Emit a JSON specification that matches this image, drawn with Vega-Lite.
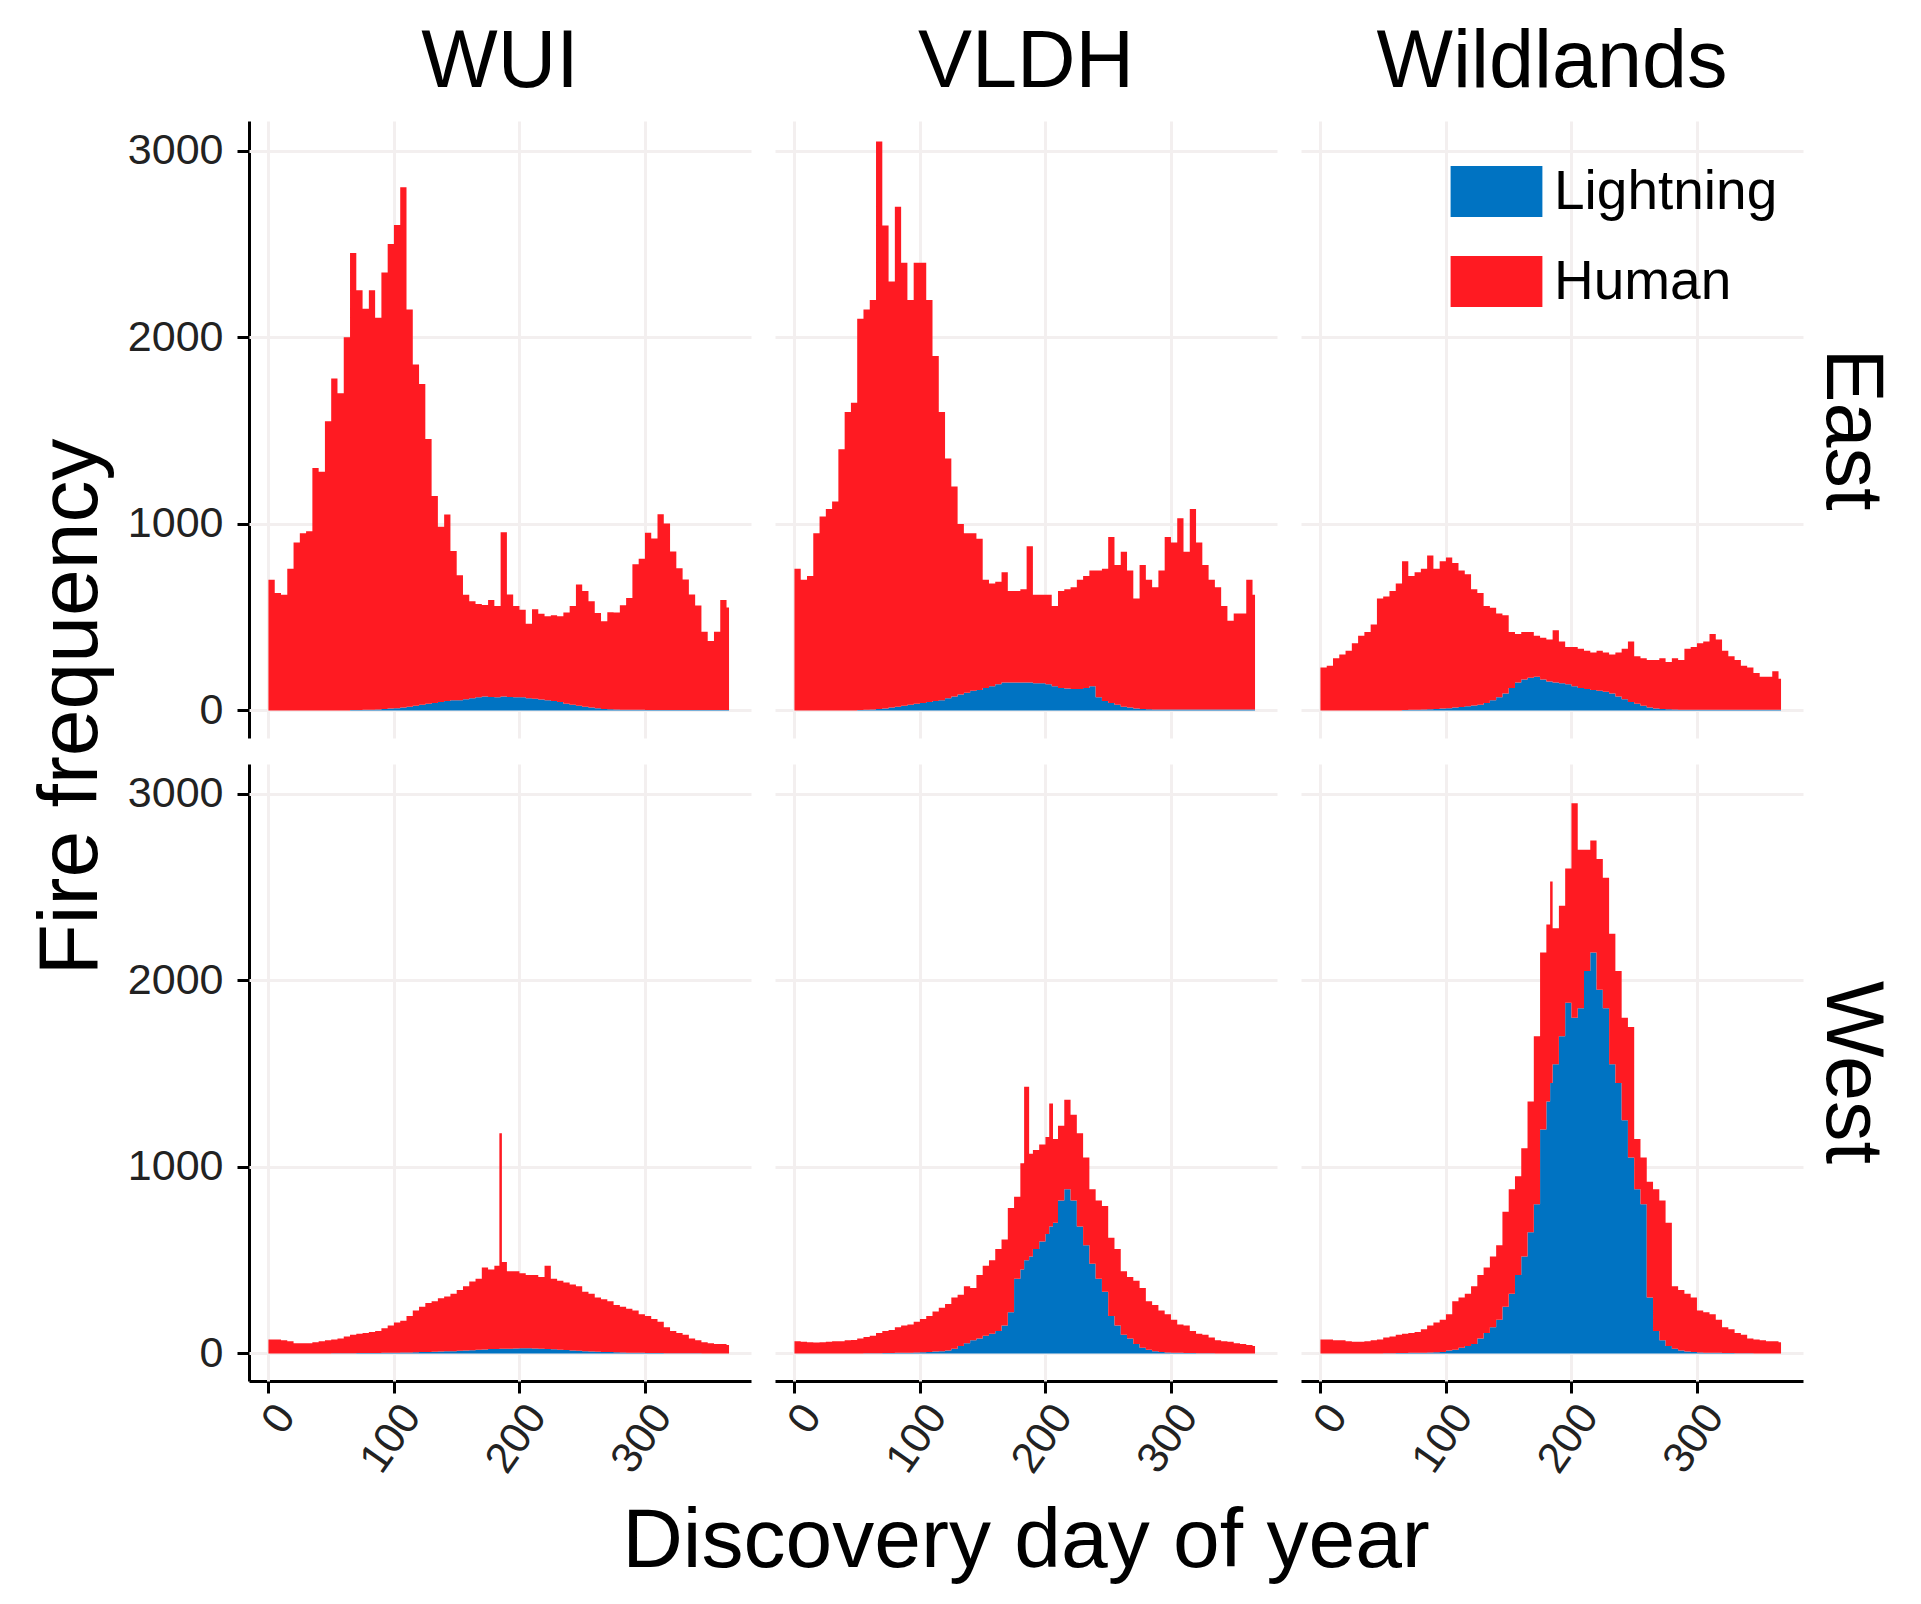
{
"$schema":"https://vega.github.io/schema/vega-lite/v6.json",
"padding":{"left":30,"top":22,"right":20,"bottom":20},
"background":"white",
"title":{"text":"Fire frequency","orient":"left","anchor":"middle","fontSize":84,"fontWeight":"normal","font":"Liberation Sans","color":"black","offset":12,"dx":96},
"data":{"values":[
{"r":"East","c":"WUI","d":0,"Lightning":0,"Human":700},{"r":"East","c":"WUI","d":5,"Lightning":0,"Human":630},{"r":"East","c":"WUI","d":10,"Lightning":0,"Human":620},{"r":"East","c":"WUI","d":15,"Lightning":0,"Human":760},{"r":"East","c":"WUI","d":20,"Lightning":0,"Human":900},{"r":"East","c":"WUI","d":25,"Lightning":0,"Human":950},{"r":"East","c":"WUI","d":30,"Lightning":0,"Human":960},{"r":"East","c":"WUI","d":35,"Lightning":0,"Human":1300},{"r":"East","c":"WUI","d":40,"Lightning":0,"Human":1280},{"r":"East","c":"WUI","d":45,"Lightning":0,"Human":1550},{"r":"East","c":"WUI","d":50,"Lightning":0,"Human":1780},{"r":"East","c":"WUI","d":55,"Lightning":0,"Human":1700},{"r":"East","c":"WUI","d":60,"Lightning":0,"Human":2000},{"r":"East","c":"WUI","d":65,"Lightning":2,"Human":2450},{"r":"East","c":"WUI","d":70,"Lightning":2,"Human":2250},{"r":"East","c":"WUI","d":75,"Lightning":3,"Human":2150},{"r":"East","c":"WUI","d":80,"Lightning":3,"Human":2250},{"r":"East","c":"WUI","d":85,"Lightning":5,"Human":2100},{"r":"East","c":"WUI","d":90,"Lightning":8,"Human":2340},{"r":"East","c":"WUI","d":95,"Lightning":10,"Human":2490},{"r":"East","c":"WUI","d":100,"Lightning":12,"Human":2590},{"r":"East","c":"WUI","d":105,"Lightning":15,"Human":2790},{"r":"East","c":"WUI","d":110,"Lightning":20,"Human":2130},{"r":"East","c":"WUI","d":115,"Lightning":25,"Human":1830},{"r":"East","c":"WUI","d":120,"Lightning":30,"Human":1720},{"r":"East","c":"WUI","d":125,"Lightning":35,"Human":1420},{"r":"East","c":"WUI","d":130,"Lightning":40,"Human":1110},{"r":"East","c":"WUI","d":135,"Lightning":45,"Human":940},{"r":"East","c":"WUI","d":140,"Lightning":50,"Human":1000},{"r":"East","c":"WUI","d":145,"Lightning":55,"Human":800},{"r":"East","c":"WUI","d":150,"Lightning":55,"Human":670},{"r":"East","c":"WUI","d":155,"Lightning":60,"Human":560},{"r":"East","c":"WUI","d":160,"Lightning":65,"Human":520},{"r":"East","c":"WUI","d":165,"Lightning":70,"Human":500},{"r":"East","c":"WUI","d":170,"Lightning":75,"Human":490},{"r":"East","c":"WUI","d":175,"Lightning":72,"Human":520},{"r":"East","c":"WUI","d":180,"Lightning":70,"Human":490},{"r":"East","c":"WUI","d":185,"Lightning":75,"Human":880},{"r":"East","c":"WUI","d":190,"Lightning":72,"Human":550},{"r":"East","c":"WUI","d":195,"Lightning":70,"Human":490},{"r":"East","c":"WUI","d":200,"Lightning":70,"Human":470},{"r":"East","c":"WUI","d":205,"Lightning":65,"Human":400},{"r":"East","c":"WUI","d":210,"Lightning":62,"Human":480},{"r":"East","c":"WUI","d":215,"Lightning":58,"Human":460},{"r":"East","c":"WUI","d":220,"Lightning":55,"Human":450},{"r":"East","c":"WUI","d":225,"Lightning":50,"Human":460},{"r":"East","c":"WUI","d":230,"Lightning":45,"Human":460},{"r":"East","c":"WUI","d":235,"Lightning":35,"Human":490},{"r":"East","c":"WUI","d":240,"Lightning":30,"Human":530},{"r":"East","c":"WUI","d":245,"Lightning":25,"Human":650},{"r":"East","c":"WUI","d":250,"Lightning":20,"Human":620},{"r":"East","c":"WUI","d":255,"Lightning":15,"Human":570},{"r":"East","c":"WUI","d":260,"Lightning":12,"Human":510},{"r":"East","c":"WUI","d":265,"Lightning":8,"Human":470},{"r":"East","c":"WUI","d":270,"Lightning":6,"Human":520},{"r":"East","c":"WUI","d":275,"Lightning":5,"Human":520},{"r":"East","c":"WUI","d":280,"Lightning":4,"Human":560},{"r":"East","c":"WUI","d":285,"Lightning":3,"Human":600},{"r":"East","c":"WUI","d":290,"Lightning":3,"Human":780},{"r":"East","c":"WUI","d":295,"Lightning":3,"Human":810},{"r":"East","c":"WUI","d":300,"Lightning":2,"Human":950},{"r":"East","c":"WUI","d":305,"Lightning":2,"Human":920},{"r":"East","c":"WUI","d":310,"Lightning":2,"Human":1050},{"r":"East","c":"WUI","d":315,"Lightning":2,"Human":1000},{"r":"East","c":"WUI","d":320,"Lightning":2,"Human":850},{"r":"East","c":"WUI","d":325,"Lightning":2,"Human":760},{"r":"East","c":"WUI","d":330,"Lightning":2,"Human":700},{"r":"East","c":"WUI","d":335,"Lightning":2,"Human":620},{"r":"East","c":"WUI","d":340,"Lightning":2,"Human":560},{"r":"East","c":"WUI","d":345,"Lightning":2,"Human":420},{"r":"East","c":"WUI","d":350,"Lightning":2,"Human":370},{"r":"East","c":"WUI","d":355,"Lightning":2,"Human":420},{"r":"East","c":"WUI","d":360,"Lightning":2,"Human":590},{"r":"East","c":"WUI","d":365,"Lightning":2,"Human":550},{"r":"East","c":"WUI","d":367,"Lightning":2,"Human":550},
{"r":"East","c":"VLDH","d":0,"Lightning":0,"Human":760},{"r":"East","c":"VLDH","d":5,"Lightning":0,"Human":700},{"r":"East","c":"VLDH","d":10,"Lightning":0,"Human":720},{"r":"East","c":"VLDH","d":15,"Lightning":0,"Human":950},{"r":"East","c":"VLDH","d":20,"Lightning":0,"Human":1040},{"r":"East","c":"VLDH","d":25,"Lightning":0,"Human":1080},{"r":"East","c":"VLDH","d":30,"Lightning":0,"Human":1120},{"r":"East","c":"VLDH","d":35,"Lightning":0,"Human":1400},{"r":"East","c":"VLDH","d":40,"Lightning":0,"Human":1600},{"r":"East","c":"VLDH","d":45,"Lightning":0,"Human":1650},{"r":"East","c":"VLDH","d":50,"Lightning":2,"Human":2098},{"r":"East","c":"VLDH","d":55,"Lightning":3,"Human":2147},{"r":"East","c":"VLDH","d":60,"Lightning":5,"Human":2195},{"r":"East","c":"VLDH","d":65,"Lightning":8,"Human":3042},{"r":"East","c":"VLDH","d":70,"Lightning":10,"Human":2590},{"r":"East","c":"VLDH","d":75,"Lightning":15,"Human":2285},{"r":"East","c":"VLDH","d":80,"Lightning":20,"Human":2680},{"r":"East","c":"VLDH","d":85,"Lightning":25,"Human":2375},{"r":"East","c":"VLDH","d":90,"Lightning":30,"Human":2170},{"r":"East","c":"VLDH","d":95,"Lightning":35,"Human":2365},{"r":"East","c":"VLDH","d":100,"Lightning":40,"Human":2360},{"r":"East","c":"VLDH","d":105,"Lightning":45,"Human":2155},{"r":"East","c":"VLDH","d":110,"Lightning":50,"Human":1850},{"r":"East","c":"VLDH","d":115,"Lightning":55,"Human":1545},{"r":"East","c":"VLDH","d":120,"Lightning":65,"Human":1285},{"r":"East","c":"VLDH","d":125,"Lightning":75,"Human":1125},{"r":"East","c":"VLDH","d":130,"Lightning":85,"Human":915},{"r":"East","c":"VLDH","d":135,"Lightning":95,"Human":855},{"r":"East","c":"VLDH","d":140,"Lightning":105,"Human":845},{"r":"East","c":"VLDH","d":145,"Lightning":110,"Human":810},{"r":"East","c":"VLDH","d":150,"Lightning":120,"Human":580},{"r":"East","c":"VLDH","d":155,"Lightning":130,"Human":550},{"r":"East","c":"VLDH","d":160,"Lightning":140,"Human":550},{"r":"East","c":"VLDH","d":165,"Lightning":150,"Human":590},{"r":"East","c":"VLDH","d":170,"Lightning":150,"Human":490},{"r":"East","c":"VLDH","d":175,"Lightning":150,"Human":490},{"r":"East","c":"VLDH","d":180,"Lightning":150,"Human":500},{"r":"East","c":"VLDH","d":185,"Lightning":150,"Human":730},{"r":"East","c":"VLDH","d":190,"Lightning":145,"Human":475},{"r":"East","c":"VLDH","d":195,"Lightning":145,"Human":475},{"r":"East","c":"VLDH","d":200,"Lightning":140,"Human":480},{"r":"East","c":"VLDH","d":205,"Lightning":130,"Human":430},{"r":"East","c":"VLDH","d":210,"Lightning":120,"Human":520},{"r":"East","c":"VLDH","d":215,"Lightning":118,"Human":532},{"r":"East","c":"VLDH","d":220,"Lightning":115,"Human":545},{"r":"East","c":"VLDH","d":225,"Lightning":115,"Human":585},{"r":"East","c":"VLDH","d":230,"Lightning":120,"Human":600},{"r":"East","c":"VLDH","d":235,"Lightning":130,"Human":620},{"r":"East","c":"VLDH","d":240,"Lightning":70,"Human":680},{"r":"East","c":"VLDH","d":245,"Lightning":50,"Human":710},{"r":"East","c":"VLDH","d":250,"Lightning":40,"Human":890},{"r":"East","c":"VLDH","d":255,"Lightning":30,"Human":750},{"r":"East","c":"VLDH","d":260,"Lightning":20,"Human":830},{"r":"East","c":"VLDH","d":265,"Lightning":15,"Human":735},{"r":"East","c":"VLDH","d":270,"Lightning":10,"Human":590},{"r":"East","c":"VLDH","d":275,"Lightning":8,"Human":772},{"r":"East","c":"VLDH","d":280,"Lightning":6,"Human":694},{"r":"East","c":"VLDH","d":285,"Lightning":5,"Human":655},{"r":"East","c":"VLDH","d":290,"Lightning":5,"Human":745},{"r":"East","c":"VLDH","d":295,"Lightning":5,"Human":925},{"r":"East","c":"VLDH","d":300,"Lightning":5,"Human":895},{"r":"East","c":"VLDH","d":305,"Lightning":5,"Human":1025},{"r":"East","c":"VLDH","d":310,"Lightning":5,"Human":845},{"r":"East","c":"VLDH","d":315,"Lightning":5,"Human":1075},{"r":"East","c":"VLDH","d":320,"Lightning":5,"Human":895},{"r":"East","c":"VLDH","d":325,"Lightning":5,"Human":775},{"r":"East","c":"VLDH","d":330,"Lightning":5,"Human":695},{"r":"East","c":"VLDH","d":335,"Lightning":5,"Human":655},{"r":"East","c":"VLDH","d":340,"Lightning":5,"Human":555},{"r":"East","c":"VLDH","d":345,"Lightning":5,"Human":475},{"r":"East","c":"VLDH","d":350,"Lightning":5,"Human":515},{"r":"East","c":"VLDH","d":355,"Lightning":5,"Human":515},{"r":"East","c":"VLDH","d":360,"Lightning":5,"Human":695},{"r":"East","c":"VLDH","d":365,"Lightning":5,"Human":615},{"r":"East","c":"VLDH","d":367,"Lightning":5,"Human":615},
{"r":"East","c":"Wildlands","d":0,"Lightning":0,"Human":230},{"r":"East","c":"Wildlands","d":5,"Lightning":0,"Human":240},{"r":"East","c":"Wildlands","d":10,"Lightning":0,"Human":280},{"r":"East","c":"Wildlands","d":15,"Lightning":0,"Human":300},{"r":"East","c":"Wildlands","d":20,"Lightning":0,"Human":320},{"r":"East","c":"Wildlands","d":25,"Lightning":0,"Human":360},{"r":"East","c":"Wildlands","d":30,"Lightning":0,"Human":400},{"r":"East","c":"Wildlands","d":35,"Lightning":0,"Human":420},{"r":"East","c":"Wildlands","d":40,"Lightning":0,"Human":460},{"r":"East","c":"Wildlands","d":45,"Lightning":0,"Human":600},{"r":"East","c":"Wildlands","d":50,"Lightning":0,"Human":610},{"r":"East","c":"Wildlands","d":55,"Lightning":0,"Human":640},{"r":"East","c":"Wildlands","d":60,"Lightning":0,"Human":680},{"r":"East","c":"Wildlands","d":65,"Lightning":2,"Human":798},{"r":"East","c":"Wildlands","d":70,"Lightning":3,"Human":717},{"r":"East","c":"Wildlands","d":75,"Lightning":4,"Human":736},{"r":"East","c":"Wildlands","d":80,"Lightning":5,"Human":755},{"r":"East","c":"Wildlands","d":85,"Lightning":6,"Human":824},{"r":"East","c":"Wildlands","d":90,"Lightning":8,"Human":752},{"r":"East","c":"Wildlands","d":95,"Lightning":10,"Human":790},{"r":"East","c":"Wildlands","d":100,"Lightning":12,"Human":808},{"r":"East","c":"Wildlands","d":105,"Lightning":15,"Human":775},{"r":"East","c":"Wildlands","d":110,"Lightning":18,"Human":732},{"r":"East","c":"Wildlands","d":115,"Lightning":22,"Human":708},{"r":"East","c":"Wildlands","d":120,"Lightning":26,"Human":624},{"r":"East","c":"Wildlands","d":125,"Lightning":30,"Human":600},{"r":"East","c":"Wildlands","d":130,"Lightning":40,"Human":520},{"r":"East","c":"Wildlands","d":135,"Lightning":55,"Human":495},{"r":"East","c":"Wildlands","d":140,"Lightning":70,"Human":450},{"r":"East","c":"Wildlands","d":145,"Lightning":90,"Human":420},{"r":"East","c":"Wildlands","d":150,"Lightning":120,"Human":300},{"r":"East","c":"Wildlands","d":155,"Lightning":150,"Human":260},{"r":"East","c":"Wildlands","d":160,"Lightning":165,"Human":255},{"r":"East","c":"Wildlands","d":165,"Lightning":175,"Human":245},{"r":"East","c":"Wildlands","d":170,"Lightning":180,"Human":220},{"r":"East","c":"Wildlands","d":175,"Lightning":165,"Human":225},{"r":"East","c":"Wildlands","d":180,"Lightning":155,"Human":225},{"r":"East","c":"Wildlands","d":185,"Lightning":150,"Human":280},{"r":"East","c":"Wildlands","d":190,"Lightning":145,"Human":225},{"r":"East","c":"Wildlands","d":195,"Lightning":140,"Human":200},{"r":"East","c":"Wildlands","d":200,"Lightning":130,"Human":210},{"r":"East","c":"Wildlands","d":205,"Lightning":120,"Human":210},{"r":"East","c":"Wildlands","d":210,"Lightning":115,"Human":205},{"r":"East","c":"Wildlands","d":215,"Lightning":110,"Human":200},{"r":"East","c":"Wildlands","d":220,"Lightning":105,"Human":215},{"r":"East","c":"Wildlands","d":225,"Lightning":100,"Human":210},{"r":"East","c":"Wildlands","d":230,"Lightning":90,"Human":210},{"r":"East","c":"Wildlands","d":235,"Lightning":75,"Human":235},{"r":"East","c":"Wildlands","d":240,"Lightning":60,"Human":270},{"r":"East","c":"Wildlands","d":245,"Lightning":45,"Human":325},{"r":"East","c":"Wildlands","d":250,"Lightning":35,"Human":255},{"r":"East","c":"Wildlands","d":255,"Lightning":25,"Human":255},{"r":"East","c":"Wildlands","d":260,"Lightning":15,"Human":255},{"r":"East","c":"Wildlands","d":265,"Lightning":10,"Human":260},{"r":"East","c":"Wildlands","d":270,"Lightning":8,"Human":272},{"r":"East","c":"Wildlands","d":275,"Lightning":6,"Human":254},{"r":"East","c":"Wildlands","d":280,"Lightning":5,"Human":275},{"r":"East","c":"Wildlands","d":285,"Lightning":4,"Human":266},{"r":"East","c":"Wildlands","d":290,"Lightning":3,"Human":327},{"r":"East","c":"Wildlands","d":295,"Lightning":3,"Human":337},{"r":"East","c":"Wildlands","d":300,"Lightning":3,"Human":357},{"r":"East","c":"Wildlands","d":305,"Lightning":3,"Human":367},{"r":"East","c":"Wildlands","d":310,"Lightning":3,"Human":407},{"r":"East","c":"Wildlands","d":315,"Lightning":3,"Human":377},{"r":"East","c":"Wildlands","d":320,"Lightning":3,"Human":317},{"r":"East","c":"Wildlands","d":325,"Lightning":3,"Human":287},{"r":"East","c":"Wildlands","d":330,"Lightning":3,"Human":267},{"r":"East","c":"Wildlands","d":335,"Lightning":3,"Human":237},{"r":"East","c":"Wildlands","d":340,"Lightning":3,"Human":227},{"r":"East","c":"Wildlands","d":345,"Lightning":3,"Human":197},{"r":"East","c":"Wildlands","d":350,"Lightning":3,"Human":177},{"r":"East","c":"Wildlands","d":355,"Lightning":3,"Human":177},{"r":"East","c":"Wildlands","d":360,"Lightning":3,"Human":207},{"r":"East","c":"Wildlands","d":365,"Lightning":3,"Human":167},{"r":"East","c":"Wildlands","d":367,"Lightning":3,"Human":167},
{"r":"West","c":"WUI","d":0,"Lightning":0,"Human":75},{"r":"West","c":"WUI","d":5,"Lightning":0,"Human":75},{"r":"West","c":"WUI","d":10,"Lightning":0,"Human":70},{"r":"West","c":"WUI","d":15,"Lightning":0,"Human":65},{"r":"West","c":"WUI","d":20,"Lightning":0,"Human":55},{"r":"West","c":"WUI","d":25,"Lightning":0,"Human":55},{"r":"West","c":"WUI","d":30,"Lightning":0,"Human":55},{"r":"West","c":"WUI","d":35,"Lightning":0,"Human":60},{"r":"West","c":"WUI","d":40,"Lightning":0,"Human":65},{"r":"West","c":"WUI","d":45,"Lightning":0,"Human":70},{"r":"West","c":"WUI","d":50,"Lightning":1,"Human":74},{"r":"West","c":"WUI","d":55,"Lightning":1,"Human":79},{"r":"West","c":"WUI","d":60,"Lightning":1,"Human":89},{"r":"West","c":"WUI","d":65,"Lightning":1,"Human":99},{"r":"West","c":"WUI","d":70,"Lightning":2,"Human":103},{"r":"West","c":"WUI","d":75,"Lightning":2,"Human":108},{"r":"West","c":"WUI","d":80,"Lightning":2,"Human":113},{"r":"West","c":"WUI","d":85,"Lightning":2,"Human":118},{"r":"West","c":"WUI","d":90,"Lightning":3,"Human":132},{"r":"West","c":"WUI","d":95,"Lightning":3,"Human":147},{"r":"West","c":"WUI","d":100,"Lightning":4,"Human":161},{"r":"West","c":"WUI","d":105,"Lightning":5,"Human":170},{"r":"West","c":"WUI","d":110,"Lightning":5,"Human":195},{"r":"West","c":"WUI","d":115,"Lightning":6,"Human":224},{"r":"West","c":"WUI","d":120,"Lightning":7,"Human":243},{"r":"West","c":"WUI","d":125,"Lightning":8,"Human":262},{"r":"West","c":"WUI","d":130,"Lightning":9,"Human":271},{"r":"West","c":"WUI","d":135,"Lightning":10,"Human":285},{"r":"West","c":"WUI","d":140,"Lightning":11,"Human":294},{"r":"West","c":"WUI","d":145,"Lightning":12,"Human":308},{"r":"West","c":"WUI","d":150,"Lightning":14,"Human":326},{"r":"West","c":"WUI","d":155,"Lightning":15,"Human":345},{"r":"West","c":"WUI","d":160,"Lightning":17,"Human":368},{"r":"West","c":"WUI","d":165,"Lightning":19,"Human":381},{"r":"West","c":"WUI","d":170,"Lightning":21,"Human":439},{"r":"West","c":"WUI","d":175,"Lightning":23,"Human":427},{"r":"West","c":"WUI","d":180,"Lightning":24,"Human":446},{"r":"West","c":"WUI","d":184,"Lightning":25,"Human":1155},{"r":"West","c":"WUI","d":186,"Lightning":25,"Human":465},{"r":"West","c":"WUI","d":190,"Lightning":25,"Human":415},{"r":"West","c":"WUI","d":195,"Lightning":26,"Human":414},{"r":"West","c":"WUI","d":200,"Lightning":27,"Human":403},{"r":"West","c":"WUI","d":205,"Lightning":27,"Human":393},{"r":"West","c":"WUI","d":210,"Lightning":26,"Human":394},{"r":"West","c":"WUI","d":215,"Lightning":25,"Human":385},{"r":"West","c":"WUI","d":220,"Lightning":24,"Human":446},{"r":"West","c":"WUI","d":225,"Lightning":22,"Human":378},{"r":"West","c":"WUI","d":230,"Lightning":20,"Human":370},{"r":"West","c":"WUI","d":235,"Lightning":18,"Human":362},{"r":"West","c":"WUI","d":240,"Lightning":16,"Human":354},{"r":"West","c":"WUI","d":245,"Lightning":14,"Human":346},{"r":"West","c":"WUI","d":250,"Lightning":12,"Human":318},{"r":"West","c":"WUI","d":255,"Lightning":10,"Human":310},{"r":"West","c":"WUI","d":260,"Lightning":9,"Human":291},{"r":"West","c":"WUI","d":265,"Lightning":8,"Human":282},{"r":"West","c":"WUI","d":270,"Lightning":7,"Human":273},{"r":"West","c":"WUI","d":275,"Lightning":6,"Human":254},{"r":"West","c":"WUI","d":280,"Lightning":5,"Human":245},{"r":"West","c":"WUI","d":285,"Lightning":4,"Human":236},{"r":"West","c":"WUI","d":290,"Lightning":3,"Human":227},{"r":"West","c":"WUI","d":295,"Lightning":3,"Human":207},{"r":"West","c":"WUI","d":300,"Lightning":2,"Human":198},{"r":"West","c":"WUI","d":305,"Lightning":2,"Human":183},{"r":"West","c":"WUI","d":310,"Lightning":2,"Human":168},{"r":"West","c":"WUI","d":315,"Lightning":1,"Human":139},{"r":"West","c":"WUI","d":320,"Lightning":1,"Human":119},{"r":"West","c":"WUI","d":325,"Lightning":1,"Human":109},{"r":"West","c":"WUI","d":330,"Lightning":1,"Human":99},{"r":"West","c":"WUI","d":335,"Lightning":1,"Human":79},{"r":"West","c":"WUI","d":340,"Lightning":1,"Human":69},{"r":"West","c":"WUI","d":345,"Lightning":0,"Human":60},{"r":"West","c":"WUI","d":350,"Lightning":0,"Human":55},{"r":"West","c":"WUI","d":355,"Lightning":0,"Human":50},{"r":"West","c":"WUI","d":360,"Lightning":0,"Human":50},{"r":"West","c":"WUI","d":365,"Lightning":0,"Human":45},{"r":"West","c":"WUI","d":367,"Lightning":0,"Human":45},
{"r":"West","c":"VLDH","d":0,"Lightning":0,"Human":65},{"r":"West","c":"VLDH","d":5,"Lightning":0,"Human":62},{"r":"West","c":"VLDH","d":10,"Lightning":0,"Human":60},{"r":"West","c":"VLDH","d":15,"Lightning":0,"Human":58},{"r":"West","c":"VLDH","d":20,"Lightning":0,"Human":60},{"r":"West","c":"VLDH","d":25,"Lightning":0,"Human":62},{"r":"West","c":"VLDH","d":30,"Lightning":0,"Human":65},{"r":"West","c":"VLDH","d":35,"Lightning":0,"Human":65},{"r":"West","c":"VLDH","d":40,"Lightning":0,"Human":70},{"r":"West","c":"VLDH","d":45,"Lightning":0,"Human":72},{"r":"West","c":"VLDH","d":50,"Lightning":0,"Human":80},{"r":"West","c":"VLDH","d":55,"Lightning":1,"Human":87},{"r":"West","c":"VLDH","d":60,"Lightning":1,"Human":94},{"r":"West","c":"VLDH","d":65,"Lightning":1,"Human":109},{"r":"West","c":"VLDH","d":70,"Lightning":2,"Human":118},{"r":"West","c":"VLDH","d":75,"Lightning":2,"Human":123},{"r":"West","c":"VLDH","d":80,"Lightning":3,"Human":137},{"r":"West","c":"VLDH","d":85,"Lightning":3,"Human":147},{"r":"West","c":"VLDH","d":90,"Lightning":4,"Human":151},{"r":"West","c":"VLDH","d":95,"Lightning":5,"Human":165},{"r":"West","c":"VLDH","d":100,"Lightning":6,"Human":179},{"r":"West","c":"VLDH","d":105,"Lightning":8,"Human":192},{"r":"West","c":"VLDH","d":110,"Lightning":10,"Human":215},{"r":"West","c":"VLDH","d":115,"Lightning":12,"Human":233},{"r":"West","c":"VLDH","d":120,"Lightning":15,"Human":250},{"r":"West","c":"VLDH","d":125,"Lightning":25,"Human":275},{"r":"West","c":"VLDH","d":130,"Lightning":40,"Human":275},{"r":"West","c":"VLDH","d":135,"Lightning":55,"Human":305},{"r":"West","c":"VLDH","d":140,"Lightning":70,"Human":280},{"r":"West","c":"VLDH","d":145,"Lightning":80,"Human":340},{"r":"West","c":"VLDH","d":150,"Lightning":95,"Human":375},{"r":"West","c":"VLDH","d":155,"Lightning":105,"Human":395},{"r":"West","c":"VLDH","d":160,"Lightning":120,"Human":440},{"r":"West","c":"VLDH","d":165,"Lightning":150,"Human":460},{"r":"West","c":"VLDH","d":170,"Lightning":220,"Human":560},{"r":"West","c":"VLDH","d":175,"Lightning":400,"Human":440},{"r":"West","c":"VLDH","d":180,"Lightning":450,"Human":570},{"r":"West","c":"VLDH","d":183,"Lightning":500,"Human":930},{"r":"West","c":"VLDH","d":187,"Lightning":520,"Human":550},{"r":"West","c":"VLDH","d":190,"Lightning":560,"Human":530},{"r":"West","c":"VLDH","d":195,"Lightning":600,"Human":520},{"r":"West","c":"VLDH","d":200,"Lightning":640,"Human":520},{"r":"West","c":"VLDH","d":203,"Lightning":680,"Human":660},{"r":"West","c":"VLDH","d":206,"Lightning":700,"Human":450},{"r":"West","c":"VLDH","d":210,"Lightning":820,"Human":400},{"r":"West","c":"VLDH","d":215,"Lightning":880,"Human":480},{"r":"West","c":"VLDH","d":220,"Lightning":820,"Human":460},{"r":"West","c":"VLDH","d":225,"Lightning":680,"Human":500},{"r":"West","c":"VLDH","d":230,"Lightning":580,"Human":470},{"r":"West","c":"VLDH","d":235,"Lightning":480,"Human":400},{"r":"West","c":"VLDH","d":240,"Lightning":400,"Human":420},{"r":"West","c":"VLDH","d":245,"Lightning":330,"Human":460},{"r":"West","c":"VLDH","d":250,"Lightning":200,"Human":420},{"r":"West","c":"VLDH","d":255,"Lightning":150,"Human":410},{"r":"West","c":"VLDH","d":260,"Lightning":100,"Human":340},{"r":"West","c":"VLDH","d":265,"Lightning":80,"Human":330},{"r":"West","c":"VLDH","d":270,"Lightning":50,"Human":340},{"r":"West","c":"VLDH","d":275,"Lightning":30,"Human":320},{"r":"West","c":"VLDH","d":280,"Lightning":20,"Human":260},{"r":"West","c":"VLDH","d":285,"Lightning":12,"Human":248},{"r":"West","c":"VLDH","d":290,"Lightning":8,"Human":222},{"r":"West","c":"VLDH","d":295,"Lightning":5,"Human":205},{"r":"West","c":"VLDH","d":300,"Lightning":4,"Human":176},{"r":"West","c":"VLDH","d":305,"Lightning":3,"Human":152},{"r":"West","c":"VLDH","d":310,"Lightning":2,"Human":148},{"r":"West","c":"VLDH","d":315,"Lightning":2,"Human":118},{"r":"West","c":"VLDH","d":320,"Lightning":1,"Human":104},{"r":"West","c":"VLDH","d":325,"Lightning":1,"Human":99},{"r":"West","c":"VLDH","d":330,"Lightning":1,"Human":84},{"r":"West","c":"VLDH","d":335,"Lightning":0,"Human":70},{"r":"West","c":"VLDH","d":340,"Lightning":0,"Human":65},{"r":"West","c":"VLDH","d":345,"Lightning":0,"Human":62},{"r":"West","c":"VLDH","d":350,"Lightning":0,"Human":55},{"r":"West","c":"VLDH","d":355,"Lightning":0,"Human":50},{"r":"West","c":"VLDH","d":360,"Lightning":0,"Human":45},{"r":"West","c":"VLDH","d":365,"Lightning":0,"Human":40},{"r":"West","c":"VLDH","d":367,"Lightning":0,"Human":40},
{"r":"West","c":"Wildlands","d":0,"Lightning":0,"Human":75},{"r":"West","c":"Wildlands","d":5,"Lightning":0,"Human":75},{"r":"West","c":"Wildlands","d":10,"Lightning":0,"Human":70},{"r":"West","c":"Wildlands","d":15,"Lightning":0,"Human":70},{"r":"West","c":"Wildlands","d":20,"Lightning":0,"Human":65},{"r":"West","c":"Wildlands","d":25,"Lightning":0,"Human":62},{"r":"West","c":"Wildlands","d":30,"Lightning":0,"Human":62},{"r":"West","c":"Wildlands","d":35,"Lightning":0,"Human":65},{"r":"West","c":"Wildlands","d":40,"Lightning":0,"Human":70},{"r":"West","c":"Wildlands","d":45,"Lightning":0,"Human":75},{"r":"West","c":"Wildlands","d":50,"Lightning":1,"Human":84},{"r":"West","c":"Wildlands","d":55,"Lightning":1,"Human":89},{"r":"West","c":"Wildlands","d":60,"Lightning":2,"Human":98},{"r":"West","c":"Wildlands","d":65,"Lightning":2,"Human":103},{"r":"West","c":"Wildlands","d":70,"Lightning":3,"Human":107},{"r":"West","c":"Wildlands","d":75,"Lightning":3,"Human":112},{"r":"West","c":"Wildlands","d":80,"Lightning":4,"Human":126},{"r":"West","c":"Wildlands","d":85,"Lightning":5,"Human":145},{"r":"West","c":"Wildlands","d":90,"Lightning":6,"Human":159},{"r":"West","c":"Wildlands","d":95,"Lightning":8,"Human":172},{"r":"West","c":"Wildlands","d":100,"Lightning":15,"Human":195},{"r":"West","c":"Wildlands","d":105,"Lightning":20,"Human":260},{"r":"West","c":"Wildlands","d":110,"Lightning":30,"Human":270},{"r":"West","c":"Wildlands","d":115,"Lightning":40,"Human":280},{"r":"West","c":"Wildlands","d":120,"Lightning":50,"Human":310},{"r":"West","c":"Wildlands","d":125,"Lightning":80,"Human":340},{"r":"West","c":"Wildlands","d":130,"Lightning":110,"Human":350},{"r":"West","c":"Wildlands","d":135,"Lightning":140,"Human":380},{"r":"West","c":"Wildlands","d":140,"Lightning":180,"Human":400},{"r":"West","c":"Wildlands","d":145,"Lightning":250,"Human":510},{"r":"West","c":"Wildlands","d":150,"Lightning":320,"Human":560},{"r":"West","c":"Wildlands","d":155,"Lightning":420,"Human":530},{"r":"West","c":"Wildlands","d":160,"Lightning":520,"Human":580},{"r":"West","c":"Wildlands","d":165,"Lightning":650,"Human":700},{"r":"West","c":"Wildlands","d":170,"Lightning":800,"Human":900},{"r":"West","c":"Wildlands","d":175,"Lightning":1200,"Human":950},{"r":"West","c":"Wildlands","d":180,"Lightning":1350,"Human":950},{"r":"West","c":"Wildlands","d":183,"Lightning":1450,"Human":1080},{"r":"West","c":"Wildlands","d":185,"Lightning":1550,"Human":730},{"r":"West","c":"Wildlands","d":190,"Lightning":1700,"Human":700},{"r":"West","c":"Wildlands","d":195,"Lightning":1880,"Human":720},{"r":"West","c":"Wildlands","d":200,"Lightning":1800,"Human":1150},{"r":"West","c":"Wildlands","d":205,"Lightning":1850,"Human":850},{"r":"West","c":"Wildlands","d":210,"Lightning":2050,"Human":650},{"r":"West","c":"Wildlands","d":215,"Lightning":2150,"Human":600},{"r":"West","c":"Wildlands","d":220,"Lightning":1950,"Human":700},{"r":"West","c":"Wildlands","d":225,"Lightning":1850,"Human":700},{"r":"West","c":"Wildlands","d":230,"Lightning":1550,"Human":700},{"r":"West","c":"Wildlands","d":235,"Lightning":1450,"Human":600},{"r":"West","c":"Wildlands","d":240,"Lightning":1250,"Human":550},{"r":"West","c":"Wildlands","d":245,"Lightning":1050,"Human":700},{"r":"West","c":"Wildlands","d":250,"Lightning":880,"Human":270},{"r":"West","c":"Wildlands","d":255,"Lightning":800,"Human":250},{"r":"West","c":"Wildlands","d":260,"Lightning":300,"Human":620},{"r":"West","c":"Wildlands","d":265,"Lightning":120,"Human":760},{"r":"West","c":"Wildlands","d":270,"Lightning":70,"Human":750},{"r":"West","c":"Wildlands","d":275,"Lightning":40,"Human":660},{"r":"West","c":"Wildlands","d":280,"Lightning":25,"Human":335},{"r":"West","c":"Wildlands","d":285,"Lightning":15,"Human":325},{"r":"West","c":"Wildlands","d":290,"Lightning":10,"Human":310},{"r":"West","c":"Wildlands","d":295,"Lightning":8,"Human":292},{"r":"West","c":"Wildlands","d":300,"Lightning":5,"Human":225},{"r":"West","c":"Wildlands","d":305,"Lightning":4,"Human":216},{"r":"West","c":"Wildlands","d":310,"Lightning":3,"Human":207},{"r":"West","c":"Wildlands","d":315,"Lightning":3,"Human":177},{"r":"West","c":"Wildlands","d":320,"Lightning":2,"Human":138},{"r":"West","c":"Wildlands","d":325,"Lightning":2,"Human":128},{"r":"West","c":"Wildlands","d":330,"Lightning":1,"Human":109},{"r":"West","c":"Wildlands","d":335,"Lightning":1,"Human":99},{"r":"West","c":"Wildlands","d":340,"Lightning":1,"Human":79},{"r":"West","c":"Wildlands","d":345,"Lightning":0,"Human":75},{"r":"West","c":"Wildlands","d":350,"Lightning":0,"Human":70},{"r":"West","c":"Wildlands","d":355,"Lightning":0,"Human":65},{"r":"West","c":"Wildlands","d":360,"Lightning":0,"Human":65},{"r":"West","c":"Wildlands","d":365,"Lightning":0,"Human":60},{"r":"West","c":"Wildlands","d":367,"Lightning":0,"Human":60}
]},
"transform":[{"fold":["Lightning","Human"],"as":["cause","n"]},{"stack":"n","groupby":["r","c","d"],"sort":[{"field":"cause","order":"descending"}],"as":["n0","n1"]}],
"facet":{
"row":{"field":"r","type":"nominal","sort":["East","West"],"header":{"title":null,"labelOrient":"right","labelAngle":90,"labelFontSize":81,"labelFont":"Liberation Sans","labelColor":"black","labelPadding":7}},
"column":{"field":"c","type":"nominal","sort":["WUI","VLDH","Wildlands"],"header":{"title":"Discovery day of year","titleOrient":"bottom","labelOrient":"top","labelFontSize":81,"labelFont":"Liberation Sans","labelColor":"black","labelPadding":17,"titleFontSize":84,"titleFont":"Liberation Sans","titleFontWeight":"normal","titleColor":"black","titlePadding":10}}
},
"spacing":{"row":26,"column":24},
"spec":{
"width":502,"height":617,
"mark":{"type":"area","interpolate":"step-after"},
"encoding":{
"x":{"field":"d","type":"quantitative","scale":{"domain":[-15.5,384.5],"nice":false,"zero":false},"axis":{"title":null,"values":[0,100,200,300],"labelAngle":-55,"labelAlign":"right","labelBaseline":"top","labelPadding":4}},
"y":{"field":"n1","type":"quantitative","scale":{"domain":[-148,3160],"nice":false,"zero":false},"axis":{"title":null,"values":[0,1000,2000,3000],"format":"d","labelPadding":14}},
"y2":{"field":"n0"},
"color":{"field":"cause","type":"nominal","scale":{"domain":["Lightning","Human"],"range":["#0073C2","#FF1A22"]},"legend":{"title":null,"orient":"none","legendX":1220,"legendY":43,"padding":0,"symbolType":"M-1.8,-1H1.8V1H-1.8Z","symbolSize":2601,"symbolStrokeWidth":0,"symbolOpacity":1,"labelFontSize":55,"labelFont":"Liberation Sans","labelColor":"black","labelOffset":30,"rowPadding":34,"labelLimit":400}}
}
},
"config":{
"view":{"stroke":null},
"axis":{"domainColor":"black","domainWidth":3,"tickColor":"black","tickWidth":3,"tickSize":12,"gridColor":"#F3EFEF","gridWidth":3,"labelFont":"Liberation Sans","labelFontSize":43,"labelColor":"#222222"}
}
}
